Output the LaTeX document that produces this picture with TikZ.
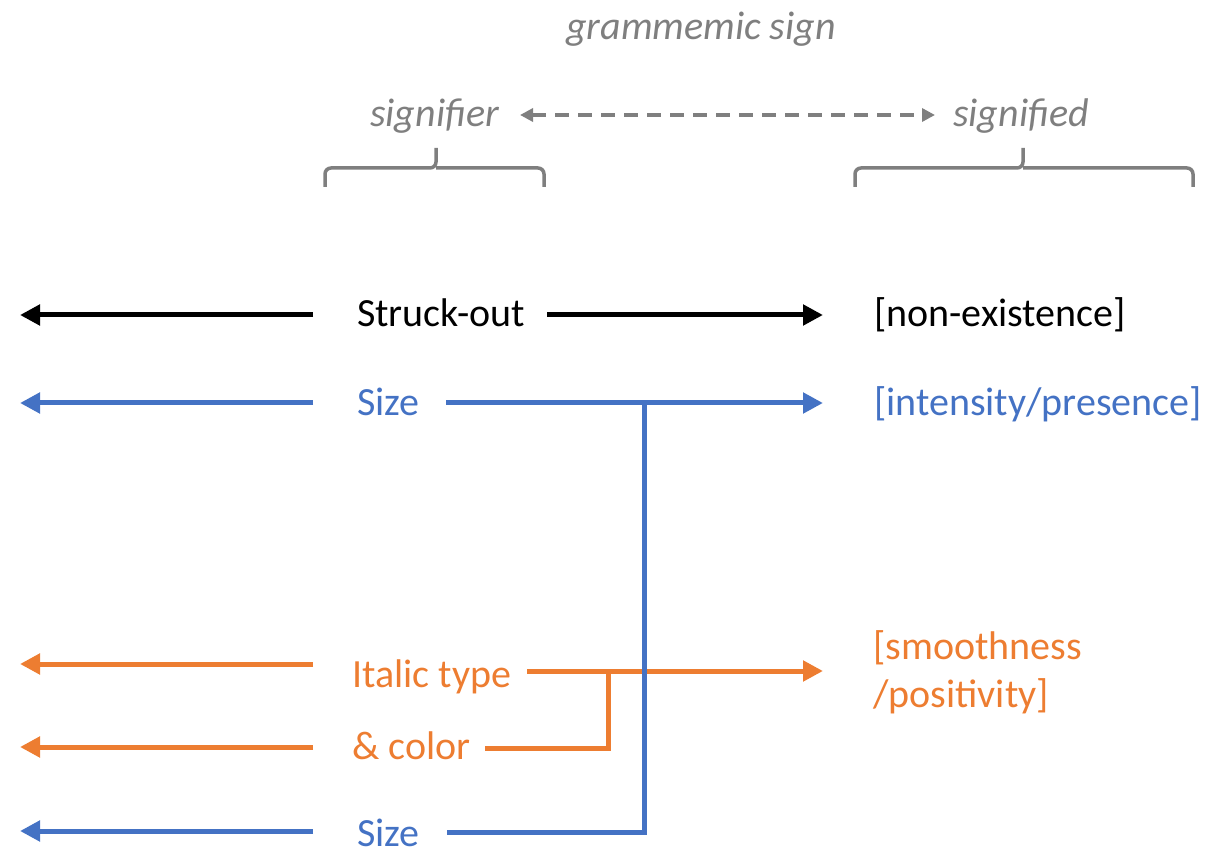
\documentclass[tikz,border=0pt]{standalone}
\usepackage{fontspec}
\setmainfont{Carlito}
\usetikzlibrary{arrows.meta}
\definecolor{cblue}{HTML}{4472C4}
\definecolor{corange}{HTML}{ED7D31}
\definecolor{cgray}{HTML}{7F7F7F}
\begin{document}
\begin{tikzpicture}[x=1pt,y=-1pt,
  lbl/.style={anchor=base west, inner sep=0pt, font=\fontsize{40}{48}\selectfont},
  glbl/.style={anchor=base west, inner sep=0pt, text=cgray, font=\fontsize{40}{48}\selectfont\itshape},
  conn/.style={line width=5pt, -{Triangle[length=20pt,width=20pt]}},
  link/.style={line width=5pt, line join=miter},
  dconn/.style={draw=cgray, line width=3.5pt, dash pattern=on 14pt off 9pt, {Triangle[length=13pt,width=13pt]}-{Triangle[length=13pt,width=13pt]}},
  bracepath/.style={draw=cgray, line width=3.5pt, rounded corners=6pt},
]
\useasboundingbox (0,0) rectangle (1224,858);

% header
\node[glbl] (title) at (566,40) {grammemic sign};
\node[glbl] (sigr) at (370,127) {signifier};
\node[glbl] (sigd) at (953,127) {signified};
\coordinate (dA) at (520,115);
\coordinate (dB) at (935,115);
\draw[dconn] (dA) -- (dB);

% braces
\coordinate (lbL) at (325,187);
\coordinate (lbM) at (436,168);
\coordinate (lbR) at (544,187);
\coordinate (lbT) at (436,148);
\draw[bracepath] (lbL) |- (lbM) -- (lbT);
\draw[bracepath] (lbR) |- (lbM);
\coordinate (rbL) at (855,187);
\coordinate (rbM) at (1023,168);
\coordinate (rbR) at (1193,187);
\coordinate (rbT) at (1023,148);
\draw[bracepath] (rbL) |- (rbM) -- (rbT);
\draw[bracepath] (rbR) |- (rbM);

% labels
\node[lbl] (struck) at (357,327) {Struck-out};
\node[lbl, text=cblue] (size1) at (357,416) {Size};
\node[lbl, text=corange] (italic) at (352,687) {Italic type};
\node[lbl, text=corange] (color) at (352,759) {\& color};
\node[lbl, text=cblue] (size2) at (357,846) {Size};
\node[lbl] (nonex) at (874,327) {[non-existence]};
\node[lbl, text=cblue] (intens) at (874,416) {[intensity/presence]};
\node[lbl, text=corange, align=left] (smooth) at (873,707) {[smoothness\\/positivity]};

% connector points
\coordinate (s1) at (313,315);  \coordinate (e1) at (20,315);
\coordinate (s2) at (313,403);  \coordinate (e2) at (20,403);
\coordinate (s3) at (313,664);  \coordinate (e3) at (20,664);
\coordinate (s4) at (313,747);  \coordinate (e4) at (20,747);
\coordinate (s5) at (313,831);  \coordinate (e5) at (20,831);

\coordinate (r1) at (547,315);  \coordinate (t1) at (823,315);
\coordinate (r2) at (446,403);  \coordinate (t2) at (823,403);
\coordinate (r3) at (527,671);  \coordinate (t3) at (823,671);
\coordinate (r4) at (485,748);  \coordinate (j4) at (608,748); \coordinate (k4) at (608,671);
\coordinate (r5) at (447,832);  \coordinate (j5) at (644,832); \coordinate (k5) at (644,403);

% left arrows
\draw[conn] (s1) -- (e1);
\draw[conn, cblue] (s2) -- (e2);
\draw[conn, corange] (s3) -- (e3);
\draw[conn, corange] (s4) -- (e4);
\draw[conn, cblue] (s5) -- (e5);

% right arrows
\draw[conn] (r1) -- (t1);
\draw[conn, corange] (r3) -- (t3);
\draw[link, corange] (r4) -- (j4) -- (k4);
\draw[conn, cblue] (r2) -- (t2);
\draw[link, cblue] (r5) -- (j5) -- (k5);
\end{tikzpicture}
\end{document}
